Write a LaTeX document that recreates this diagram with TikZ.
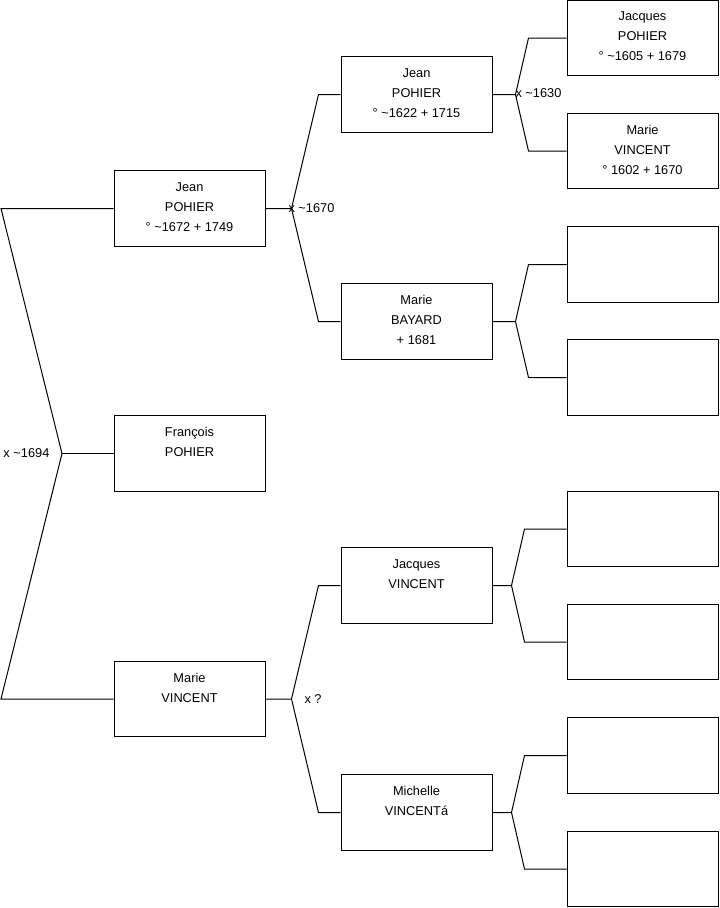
\documentclass[tikz,border=0pt]{standalone}
\usepackage{fontspec}
\setmainfont{Liberation Sans}
\usetikzlibrary{calc}

\begin{document}
\begin{tikzpicture}[x=0.75pt,y=-0.75pt,line width=0.75pt]
			\tikzstyle{person}=[draw, minimum width=113.25pt, minimum height=56.6pt, inner sep=0pt]
			\tikzstyle{info}=[anchor=north, align=center, inner sep=0pt, yshift=-8.8pt, font=\fontsize{9.6pt}{15pt}\selectfont]
			\tikzstyle{union}=[anchor=west, inner sep=0pt, font=\fontsize{9.6pt}{15pt}\selectfont]

			\useasboundingbox (0,0) rectangle (719,908);

			% generation 1
			\node (P1) [person, label={[info]north:{Jean\\POHIER\\° \textasciitilde1672 + 1749}}] at (189.5,208.5) {};
			\node (P2) [person, label={[info]north:{François\\POHIER}}] at (189.5,453.5) {};
			\node (P3) [person, label={[info]north:{Marie\\VINCENT}}] at (189.5,699) {};

			% generation 2
			\node (Q1) [person, label={[info]north:{Jean\\POHIER\\° \textasciitilde1622 + 1715}}] at (416.5,94.5) {};
			\node (Q2) [person, label={[info]north:{Marie\\BAYARD\\+ 1681}}] at (416.5,321.5) {};
			\node (Q3) [person, label={[info]north:{Jacques\\VINCENT}}] at (416.5,585.5) {};
			\node (Q4) [person, label={[info]north:{Michelle\\VINCENTá}}] at (416.5,812.5) {};

			% generation 3
			\node (R1) [person, label={[info]north:{Jacques\\POHIER\\° \textasciitilde1605 + 1679}}] at (642.5,38) {};
			\node (R2) [person, label={[info]north:{Marie\\VINCENT\\° 1602 + 1670}}] at (642.5,151) {};
			\node (R3) [person] at (642.5,264.5) {};
			\node (R4) [person] at (642.5,377.5) {};
			\node (R5) [person] at (642.5,529) {};
			\node (R6) [person] at (642.5,642) {};
			\node (R7) [person] at (642.5,755.5) {};
			\node (R8) [person] at (642.5,869) {};

			% forks
			\coordinate (J0) at (62,453.5);
			\coordinate (A1) at (1,208.5);
			\coordinate (A2) at (1,699);
			\draw (P1.west) -- (A1) -- (J0) -- (A2) -- (P3.west);
			\draw (J0) -- (P2.west);

			\draw (P1.east) -- ++(26,0) coordinate (J1) -- ($(Q1.west)+(-22,0)$) -- (Q1.west);
			\draw (J1) -- ($(Q2.west)+(-22,0)$) -- (Q2.west);
			\draw (P3.east) -- ++(26,0) coordinate (J2) -- ($(Q3.west)+(-22,0)$) -- (Q3.west);
			\draw (J2) -- ($(Q4.west)+(-22,0)$) -- (Q4.west);

			\draw (Q1.east) -- ++(23,0) coordinate (J3) -- ($(R1.west)+(-38,0)$) -- (R1.west);
			\draw (J3) -- ($(R2.west)+(-38,0)$) -- (R2.west);
			\draw (Q2.east) -- ++(23,0) coordinate (J4) -- ($(R3.west)+(-38,0)$) -- (R3.west);
			\draw (J4) -- ($(R4.west)+(-38,0)$) -- (R4.west);
			\draw (Q3.east) -- ++(19,0) coordinate (J5) -- ($(R5.west)+(-42,0)$) -- (R5.west);
			\draw (J5) -- ($(R6.west)+(-42,0)$) -- (R6.west);
			\draw (Q4.east) -- ++(19,0) coordinate (J6) -- ($(R7.west)+(-42,0)$) -- (R7.west);
			\draw (J6) -- ($(R8.west)+(-42,0)$) -- (R8.west);

			% marriages
			\node (M0) [union] at (3,453.5) {x \textasciitilde1694};
			\node (M1) [union] at (288,208.5) {x \textasciitilde1670};
			\node (M2) [union] at (304,699) {x ?};
			\node (M3) [union] at (515,93) {x \textasciitilde1630};
\end{tikzpicture}
\end{document}
